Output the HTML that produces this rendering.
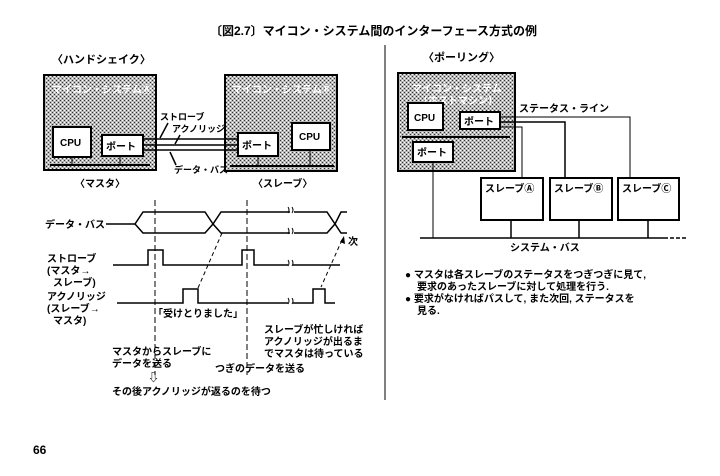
<!DOCTYPE html>
<html><head><meta charset="utf-8"><style>
html,body{margin:0;padding:0;background:#fff;}
svg{display:block;}
text{font-family:"Liberation Sans","Noto Sans CJK JP",sans-serif;font-weight:bold;fill:#000;}
</style></head><body>
<svg width="720" height="476" viewBox="0 0 720 476" xmlns="http://www.w3.org/2000/svg">
<defs>
<pattern id="sh" width="4" height="4" patternUnits="userSpaceOnUse">
<rect width="4" height="4" fill="#b8b8b8"/>
<rect x="0" y="0" width="1" height="1" fill="#333"/><rect x="2" y="2" width="1" height="1" fill="#333"/>
<rect x="2" y="0" width="1" height="1" fill="#fff"/><rect x="0" y="2" width="1" height="1" fill="#fff"/>
</pattern>
</defs>
<text x="210" y="35" font-size="12">〔図2.7〕マイコン・システム間のインターフェース方式の例</text>
<line x1="385" y1="45" x2="385" y2="400" stroke="#000" stroke-width="1"/>

<!-- handshake -->
<text x="52" y="63" font-size="11">〈ハンドシェイク〉</text>
<rect x="44" y="75" width="112" height="95" fill="url(#sh)" stroke="#000" stroke-width="2"/>
<text x="52" y="93" font-size="10" fill="#fff" style="fill:#fff">マイコン・システムⒶ</text>
<line x1="50" y1="165" x2="150" y2="165" stroke="#000" stroke-width="2"/>
<line x1="72" y1="157" x2="72" y2="165" stroke="#000"/><line x1="120" y1="156" x2="120" y2="165" stroke="#000"/>
<rect x="53" y="127" width="38" height="30" fill="#fff" stroke="#000" stroke-width="2"/>
<text x="60" y="146" font-size="10">CPU</text>
<rect x="102" y="135" width="41" height="21" fill="#fff" stroke="#000" stroke-width="2"/>
<text x="106" y="150" font-size="10">ポート</text>

<rect x="225" y="75" width="112" height="96" fill="url(#sh)" stroke="#000" stroke-width="2"/>
<text x="232" y="93" font-size="10" style="fill:#fff">マイコン・システムⒷ</text>
<line x1="230" y1="166" x2="334" y2="166" stroke="#000" stroke-width="2"/>
<line x1="258" y1="156" x2="258" y2="166" stroke="#000"/><line x1="310" y1="150" x2="310" y2="166" stroke="#000"/>
<rect x="238" y="133" width="40" height="23" fill="#fff" stroke="#000" stroke-width="2"/>
<text x="242" y="149" font-size="10">ポート</text>
<rect x="292" y="123" width="38" height="27" fill="#fff" stroke="#000" stroke-width="2"/>
<text x="299" y="140" font-size="10">CPU</text>

<g stroke="#000" stroke-width="1.5">
<line x1="143" y1="139" x2="238" y2="139"/><line x1="143" y1="145" x2="238" y2="145"/><line x1="143" y1="150" x2="238" y2="150"/>
<line x1="168" y1="123" x2="160" y2="138"/><line x1="180" y1="135" x2="175" y2="144"/><line x1="170" y1="152" x2="176" y2="165"/>
</g>
<text x="160" y="120" font-size="9">ストローブ</text>
<text x="172" y="132" font-size="9">アクノリッジ</text>
<text x="174" y="173" font-size="9">データ・バス</text>
<text x="75" y="187" font-size="10">〈マスタ〉</text>
<text x="253" y="187" font-size="10">〈スレーブ〉</text>

<!-- timing -->
<g stroke="#000" stroke-width="1.5" fill="none">
<polyline points="106,224 135,224 143,212 205,212 213,224 221,212 290,212"/>
<polyline points="135,224 143,233 205,233 213,224 221,233 290,233"/>
<polyline points="294,212 327,212 335,224 341,212 347,212"/>
<polyline points="294,233 327,233 335,224 341,233 347,233"/>
<polyline points="113,265 148,265 148,250 163,250 163,265 242,265 242,250 254,250 254,265 288,265"/>
<line x1="293" y1="265" x2="340" y2="265"/>
<polyline points="117,303 183,303 183,289 198,289 198,303 288,303"/>
<polyline points="293,303 313,303 313,289 325,289 325,303 335,303"/>
</g>
<g stroke="#000" stroke-width="1" fill="none">
<path d="M288,207 q2,3 0,6 M292,207 q2,3 0,6 M288,228 q2,3 0,6 M292,228 q2,3 0,6 M288,260 q2,3 0,6 M292,260 q2,3 0,6 M288,298 q2,3 0,6 M292,298 q2,3 0,6"/>
<line x1="155" y1="200" x2="155" y2="375" stroke-dasharray="6,3"/>
<line x1="247" y1="200" x2="247" y2="375" stroke-dasharray="6,3"/>
<line x1="222" y1="233" x2="198" y2="288" stroke-dasharray="4,3"/>
<line x1="342" y1="240" x2="321" y2="287" stroke-dasharray="4,3"/>
</g>
<polygon points="344,236 345,244 340,242" fill="#000"/>
<text x="348" y="245" font-size="10">次</text>
<text x="45" y="228" font-size="10">データ・バス</text>
<text x="47" y="262" font-size="10">ストローブ</text>
<text x="47" y="274" font-size="10">(マスタ→</text>
<text x="53" y="286" font-size="10">スレーブ)</text>
<text x="47" y="300" font-size="10">アクノリッジ</text>
<text x="47" y="312" font-size="10">(スレーブ→</text>
<text x="53" y="324" font-size="10">マスタ)</text>
<text x="153" y="317" font-size="10">「受けとりました」</text>
<text x="264" y="333" font-size="10">スレーブが忙しければ</text>
<text x="264" y="345" font-size="10">アクノリッジが出るま</text>
<text x="264" y="357" font-size="10">でマスタは待っている</text>
<text x="112" y="355" font-size="10">マスタからスレーブに</text>
<text x="112" y="367" font-size="10">データを送る</text>
<text x="148" y="381" font-size="11">⇩</text>
<text x="112" y="395" font-size="10">その後アクノリッジが返るのを待つ</text>
<text x="215" y="372" font-size="10">つぎのデータを送る</text>

<!-- polling -->
<text x="423" y="61" font-size="11">〈ポーリング〉</text>
<rect x="398" y="73" width="117" height="98" fill="url(#sh)" stroke="#000" stroke-width="2"/>
<text x="412" y="92" font-size="10" style="fill:#fff">マイコン・システム</text>
<text x="418" y="104" font-size="10" style="fill:#fff">（ホストマシン）</text>
<line x1="402" y1="137" x2="510" y2="137" stroke="#000" stroke-width="2"/>
<rect x="408" y="103" width="35" height="27" fill="#fff" stroke="#000" stroke-width="2"/>
<text x="414" y="121" font-size="10">CPU</text>
<rect x="460" y="112" width="40" height="17" fill="#fff" stroke="#000" stroke-width="2"/>
<text x="464" y="125" font-size="10">ポート</text>
<rect x="413" y="142" width="40" height="20" fill="#fff" stroke="#000" stroke-width="2"/>
<text x="417" y="156" font-size="10">ポート</text>
<g stroke="#000" stroke-width="1" fill="none">
<polyline points="500,117 630,117 630,178"/>
<polyline points="500,122 565,122 565,178" stroke-width="1.5"/>
<polyline points="500,127 522,127 522,178"/>
<line x1="433" y1="162" x2="433" y2="238"/>
<line x1="511" y1="220" x2="511" y2="238" stroke-width="1.5"/>
<line x1="579" y1="220" x2="579" y2="238" stroke-width="1.5"/>
<line x1="648" y1="220" x2="648" y2="238" stroke-width="1.5"/>
<line x1="420" y1="238" x2="668" y2="238" stroke-width="1.5"/>
<line x1="670" y1="238" x2="686" y2="238" stroke-width="1.5" stroke-dasharray="4,2"/>
</g>
<text x="519" y="112" font-size="10">ステータス・ライン</text>
<rect x="481" y="178" width="62" height="42" fill="#fff" stroke="#000" stroke-width="2"/>
<text x="485" y="192" font-size="10">スレーブⒶ</text>
<rect x="550" y="178" width="62" height="42" fill="#fff" stroke="#000" stroke-width="2"/>
<text x="554" y="192" font-size="10">スレーブⒷ</text>
<rect x="618" y="178" width="61" height="42" fill="#fff" stroke="#000" stroke-width="2"/>
<text x="622" y="192" font-size="10">スレーブⒸ</text>
<text x="510" y="251" font-size="10">システム・バス</text>
<text x="405" y="278" font-size="10">● マスタは各スレーブのステータスをつぎつぎに見て,</text>
<text x="417" y="290" font-size="10">要求のあったスレーブに対して処理を行う.</text>
<text x="405" y="302" font-size="10">● 要求がなければパスして, また次回, ステータスを</text>
<text x="417" y="314" font-size="10">見る.</text>

<text x="33" y="454" font-size="12">66</text>
</svg>
</body></html>
